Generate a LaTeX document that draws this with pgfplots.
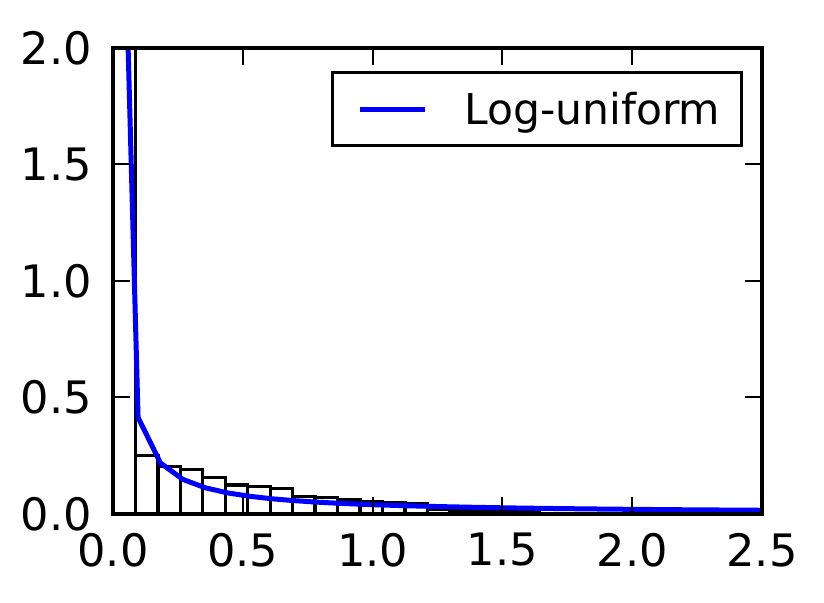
\documentclass[border=0pt]{standalone}
\usepackage{pgfplots}
\pgfplotsset{compat=1.18}
\usepackage{fontspec}
\setmainfont{DejaVu Sans}
\newcommand{\bigf}{\fontsize{44.7}{52}\selectfont}
\newcommand{\legf}{\fontsize{42.5}{50}\selectfont}
\begin{document}
\begin{tikzpicture}
\begin{axis}[
  scale only axis,
  width=649pt, height=466pt,
  xmin=0, xmax=2.5, ymin=0, ymax=2.0,
  xtick={0,0.5,1.0,1.5,2.0,2.5},
  ytick={0,0.5,1.0,1.5,2.0},
  /pgf/number format/assume math mode=true,
  xticklabel style={/pgf/number format/fixed, /pgf/number format/precision=1, /pgf/number format/fixed zerofill},
  yticklabel style={/pgf/number format/fixed, /pgf/number format/precision=1, /pgf/number format/fixed zerofill},
  tick label style={font=\bigf, inner sep=0pt},
  yticklabel style={xshift=-21pt},
  xticklabel style={yshift=-18.7pt},
  major tick length=17pt,
  tick style={line width=2pt, black},
  axis line style={line width=3.8pt, black},
  axis on top,
  legend style={at={(rel axis cs:1,1)}, anchor=north east, xshift=-19.3pt, yshift=-22.7pt,
    draw=black, line width=3pt, font=\legf, inner xsep=21pt, inner ysep=20pt,
    nodes={inner sep=0pt}},
  legend image code/.code={
    \path[draw=none] (0pt,-8pt) -- (0pt,0pt);
    \draw[#1] (7pt,0pt) -- (72pt,0pt);
    \path[draw=none] (111pt,0pt) -- (111pt,0pt);
  },
]
\addplot[ybar interval, draw=black, fill=none, line width=3.3pt, forget plot] coordinates {
  (0.0000,5.000) (0.0865,0.250) (0.1730,0.205) (0.2595,0.190) (0.3460,0.156)
  (0.4325,0.125) (0.5190,0.117) (0.6055,0.108) (0.6920,0.076) (0.7785,0.072)
  (0.8650,0.060) (0.9515,0.054) (1.0380,0.048) (1.1245,0.046) (1.2110,0.020)
  (1.2975,0.017) (1.3840,0.015) (1.4705,0.013) (1.5570,0.011) (1.6435,0.000)
};
\addplot[color={rgb,255:red,0;green,0;blue,255}, line width=5pt] coordinates {
  (0.0100,4.0000) (0.0965,0.4145) (0.1830,0.2186) (0.2695,0.1484) (0.3560,0.1124)
  (0.4425,0.0904) (0.5290,0.0756) (0.6155,0.0650) (0.7020,0.0570) (0.7885,0.0507)
  (0.8750,0.0457) (0.9615,0.0416) (1.0480,0.0382) (1.1345,0.0353) (1.2210,0.0328)
  (1.3075,0.0306) (1.3940,0.0287) (1.4805,0.0270) (1.5670,0.0255) (1.6535,0.0242)
  (1.7400,0.0230) (1.8265,0.0219) (1.9130,0.0209) (1.9995,0.0200) (2.0860,0.0192)
  (2.1725,0.0184) (2.2590,0.0177) (2.3455,0.0171) (2.4320,0.0164) (2.5185,0.0159)
};
\addlegendentry{Log-uniform}
\end{axis}
\path ([shift={(-113pt,-88pt)}]current axis.south west) rectangle ([shift={(62pt,48pt)}]current axis.north east);
\end{tikzpicture}
\end{document}
